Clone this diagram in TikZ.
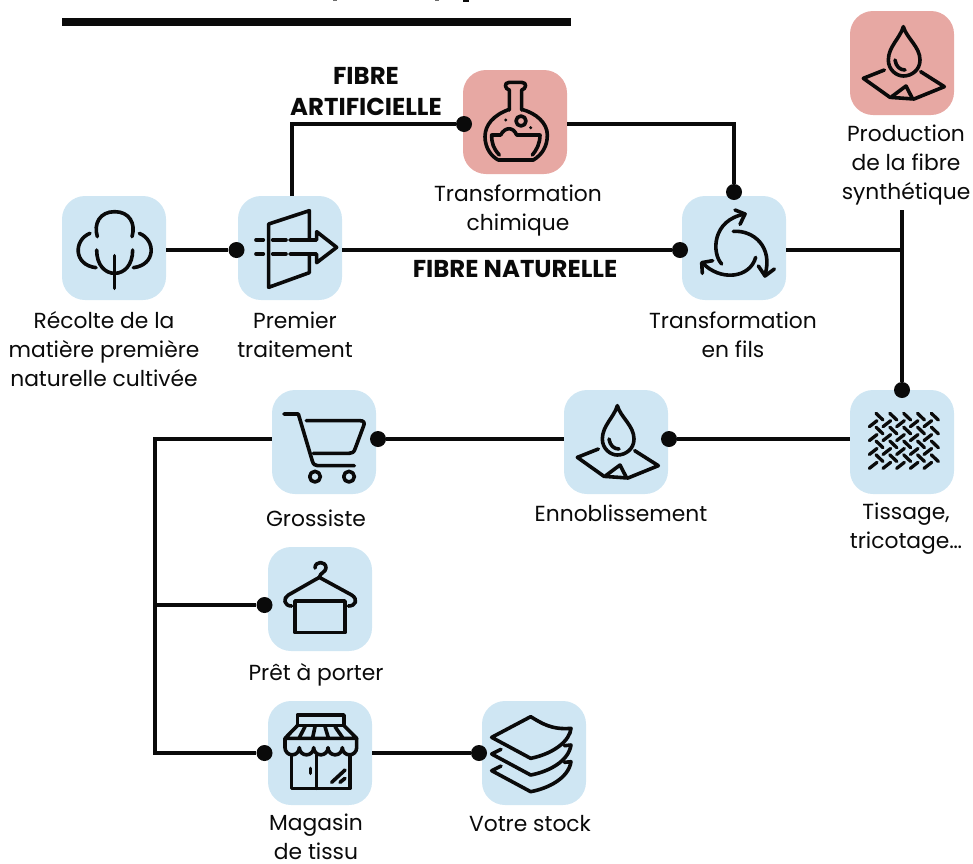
\documentclass[tikz,border=0pt]{standalone}
\usepackage{fontspec}
\setmainfont{Poppins}
\definecolor{bluebox}{HTML}{CFE6F3}
\definecolor{pinkbox}{HTML}{E7A8A3}
\definecolor{ink}{HTML}{0A0A0A}
\tikzset{
  box/.style={rounded corners=23pt,minimum width=104pt,minimum height=104pt,inner sep=0pt,fill=#1,draw=none},
  dot/.style={circle,fill=ink,minimum size=16pt,inner sep=0pt},
  conn/.style={draw=ink,line width=4pt},
  lbl/.style={font=\fontsize{21.8}{29}\selectfont,align=center,text=ink,inner sep=0pt},
  blbl/.style={font=\fontsize{24.4}{31}\selectfont\bfseries,align=center,text=ink,inner sep=0pt},
  ico/.style={draw=ink,line width=3.6pt,line cap=round,line join=round},
  fine/.style={draw=ink,line width=3.3pt,line cap=round}
}
\newcommand{\dropicon}{%
  \draw[ico] (190,65) .. controls (180,100) and (145,125) .. (145,165) .. controls (145,195) and (170,213) .. (190,213) .. controls (215,213) and (240,195) .. (240,165) .. controls (240,125) and (200,100) .. (190,65) -- cycle;
  \draw[ico] (165,165) .. controls (168,185) and (180,195) .. (195,195);
  \draw[ico] (133,195) -- (70,220) -- (150,277) -- (222,282) -- (313,245) -- (242,200);
  \draw[ico] (155,275) -- (198,243) -- (217,280);
}
\begin{document}
\begin{tikzpicture}[x=1pt,y=-1pt]
\useasboundingbox (0,0) rectangle (973,863);
% cut-off marks and top rule
\fill[ink!60] (333,0) rectangle (337,1);
\fill[ink!60] (435,0) rectangle (439,1);
\fill[ink] (463,0) rectangle (469,1.5);
\fill[ink] (62,17.5) rectangle (571,26);
% boxes
\node[box=bluebox] (a) at (114,248) {};
\node[box=bluebox] (b) at (290,248) {};
\node[box=pinkbox] (c) at (515,122) {};
\node[box=bluebox] (d) at (734,248) {};
\node[box=pinkbox] (e) at (902,63) {};
\node[box=bluebox] (f) at (902,442) {};
\node[box=bluebox] (g) at (616,442) {};
\node[box=bluebox] (h) at (324,442) {};
\node[box=bluebox] (i) at (320,599) {};
\node[box=bluebox] (j) at (320,753) {};
\node[box=bluebox] (k) at (534,753) {};
% dots
\node[dot] (da) at (236.5,250) {};
\node[dot] (db) at (680,250) {};
\node[dot] (dc) at (464,124) {};
\node[dot] (dd) at (734,192) {};
\node[dot] (df) at (902,390) {};
\node[dot] (dg) at (669,439) {};
\node[dot] (dh) at (378,439) {};
\node[dot] (di) at (264.5,605) {};
\node[dot] (dj) at (264.5,753) {};
\node[dot] (dk) at (479,753) {};
% free points
\coordinate (tb) at (292,196);
\coordinate (tbc) at (292,124);
\coordinate (cd) at (734,124);
\coordinate (join) at (902,250);
\coordinate (ee) at (902,210);
\coordinate (bus) at (155,439);
\coordinate (busi) at (155,605);
\coordinate (busj) at (155,753);
% connectors
\draw[conn] (a.east |- da) -- (da);
\draw[conn] (b.east |- db) -- (db);
\draw[conn] (tb) -- (tbc) -- (dc);
\draw[conn] (c.east |- dc) -- (cd) -- (dd);
\draw[conn] (d.east |- join) -- (join);
\draw[conn] (ee) -- (df);
\draw[conn] (f.west |- dg) -- (dg);
\draw[conn] (g.west |- dh) -- (dh);
\draw[conn] (h.west |- bus) -- (bus) -- (busj) -- (dj);
\draw[conn] (busi) -- (di);
\draw[conn] (j.east |- dk) -- (dk);
% icons
\begin{scope}[shift={(50,190)},scale=1/3]
  \draw[ico] (142,140) .. controls (130,100) and (150,65) .. (194,65) .. controls (238,65) and (258,100) .. (246,140);
  \draw[ico] (120,130) .. controls (70,150) and (70,225) .. (138,233);
  \draw[ico] (268,130) .. controls (318,150) and (318,225) .. (250,233);
  \draw[ico] (140,180) .. controls (140,225) and (165,250) .. (194,250) .. controls (223,250) and (248,225) .. (248,180);
  \draw[ico] (194,197) -- (194,295);
  \draw[ico] (778,150) -- (778,62) -- (656,102) -- (656,292) -- (778,248) -- (778,192);
  \draw[ico] (720,150) -- (800,150) -- (800,125) -- (860,172) -- (800,218) -- (800,192) -- (720,192);
  \draw[ico] (618,150) -- (640,150) (668,150) -- (708,150) (618,192) -- (640,192) (668,192) -- (708,192);
\end{scope}
\begin{scope}[shift={(450,60)},scale=1/3]
  \draw[ico] (178,150) -- (178,90) .. controls (165,88) and (160,67) .. (178,67) -- (215,67) .. controls (233,67) and (228,88) .. (215,90) -- (215,150);
  \draw[ico] (178,148) .. controls (130,165) and (105,195) .. (105,230) .. controls (105,265) and (125,290) .. (145,300) -- (250,300) .. controls (275,285) and (292,260) .. (292,225) .. controls (292,190) and (260,160) .. (215,148);
  \draw[ico] (148,285) .. controls (130,265) and (125,250) .. (125,225) -- (152,225) .. controls (165,200) and (190,200) .. (200,225) -- (270,225) .. controls (270,250) and (260,270) .. (247,285);
  \draw[ico] (213,183) circle[radius=15];
  \fill[ink] (167,180) circle[radius=5] (242,203) circle[radius=5];
\end{scope}
\begin{scope}[shift={(670,190)},scale=1/3]
  \draw[ico] (155,222) .. controls (125,190) and (125,90) .. (225,72);
  \draw[ico] (195,60) -- (225,72) -- (210,103);
  \draw[ico] (190,124) .. controls (250,120) and (310,170) .. (285,255);
  \draw[ico] (265,228) -- (285,258) -- (313,237);
  \draw[ico] (257,202) .. controls (240,265) and (150,275) .. (97,218);
  \draw[ico] (97,250) -- (95,218) -- (128,212);
\end{scope}
\begin{scope}[shift={(840,5)},scale=1/3]
  \dropicon
\end{scope}
\begin{scope}[shift={(554,384)},scale=1/3]
  \dropicon
\end{scope}
\begin{scope}[shift={(840,385)},scale=1/3]
  \foreach \i in {0,...,4} \foreach \j in {0,...,3} {
    \draw[fine] ({108+41.5*\i},{85+41.5*\j}) -- ({129+41.5*\i},{105+41.5*\j});
    \draw[fine] ({88+41*\i},{125+41.7*\j}) -- ({111+41*\i},{107+41.7*\j});
  }
\end{scope}
\begin{scope}[shift={(265,385)},scale=1/3]
  \draw[ico] (57,87) -- (100,87) -- (142,228) .. controls (145,238) and (150,242) .. (158,242) -- (268,242);
  \draw[ico] (124,107) -- (285,107) .. controls (296,107) and (300,113) .. (296,122) -- (270,192) .. controls (266,202) and (262,205) .. (252,205) -- (145,205);
  \draw[ico] (150,275) circle[radius=16] (252,275) circle[radius=16];
\end{scope}
\begin{scope}[shift={(260,540)},scale=1/3]
  \draw[ico] (105,183) rectangle (255,278);
  \draw[ico] (165,84) .. controls (165,62) and (198,62) .. (198,84) .. controls (198,96) and (180,98) .. (178,112);
  \draw[ico] (178,112) -- (85,165) .. controls (68,175) and (72,198) .. (95,198);
  \draw[ico] (178,112) -- (275,165) .. controls (295,178) and (288,198) .. (265,198);
\end{scope}
\begin{scope}[shift={(260,695)},scale=1/3]
  \draw[ico] (112,92) -- (112,60) -- (252,60) -- (252,92) -- cycle;
  \draw[ico] (112,92) -- (75,130) -- (290,130) -- (252,92);
  \draw[ico] (135,95) -- (118,128) (165,95) -- (158,128) (195,95) -- (205,128) (225,95) -- (248,128);
  \draw[ico] (75,130) -- (75,158) arc[start angle=180,end angle=0,radius=21.5] arc[start angle=180,end angle=0,radius=21.5] arc[start angle=180,end angle=0,radius=21.5] arc[start angle=180,end angle=0,radius=21.5] arc[start angle=180,end angle=0,radius=21.5] -- (290,130);
  \draw[ico] (95,180) -- (95,280) -- (270,280) -- (270,180);
  \draw[ico] (170,180) -- (170,280);
  \draw[ico] (151,220) -- (151,235);
  \draw[ico] (215,262) -- (255,225) (240,262) -- (255,250);
\end{scope}
\begin{scope}[shift={(475,695)},scale=1/3]
  \draw[ico] (50,127) -- (167,65) .. controls (200,85) and (230,105) .. (288,100) .. controls (285,135) and (240,175) .. (167,190) -- cycle;
  \draw[ico] (78,163) -- (50,177) -- (167,240) .. controls (220,230) and (280,200) .. (288,150) -- (268,152);
  \draw[ico] (78,213) -- (50,227) -- (167,290) .. controls (220,280) and (280,250) .. (288,200) -- (268,202);
\end{scope}
% labels
\node[lbl] (la) at (104,349) {Récolte de la\\matière première\\naturelle cultivée};
\node[lbl] (lb) at (295,334.5) {Premier\\traitement};
\node[lbl] (lc) at (518,210) {Transformation\\chimique};
\node[lbl] (ld) at (733,334.5) {Transformation\\en fils};
\node[lbl] (le) at (906,165) {Production\\de la fibre\\synthétique};
\node[lbl] (lf) at (906,529) {Tissage,\\tricotage…};
\node[lbl] (lg) at (621,513) {Ennoblissement};
\node[lbl] (lh) at (316,518) {Grossiste};
\node[lbl] (li) at (316,674.5) {Prêt à porter};
\node[lbl] (lj) at (316,837) {Magasin\\de tissu};
\node[lbl] (lk) at (530,824) {Votre stock};
\node[blbl] (la1) at (366,91.5) {FIBRE\\ARTIFICIELLE};
\node[blbl] (la2) at (515,269) {FIBRE NATURELLE};
\end{tikzpicture}
\end{document}
